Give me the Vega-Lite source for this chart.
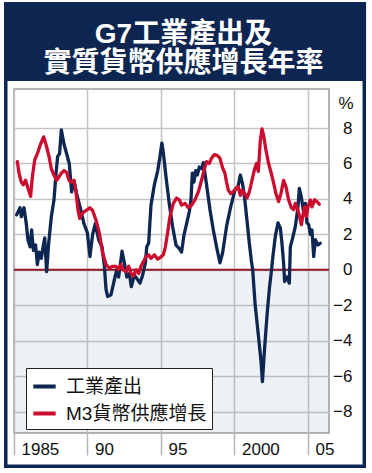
{
  "$schema": "https://vega.github.io/schema/vega-lite/v6.json",
  "width": 315,
  "height": 344,
  "autosize": {"type": "none"},
  "padding": {"left": 14, "top": 89, "right": 43, "bottom": 40},
  "background": "white",
  "title": {
    "text": ["G7工業產出及", "實質貨幣供應增長年率"],
    "color": "white",
    "font": "Liberation Sans, Noto Sans CJK TC",
    "fontSize": 28,
    "fontWeight": "bold",
    "lineHeight": 29,
    "anchor": "middle",
    "frame": "group",
    "dx": 12,
    "offset": -76
  },
  "config": {
    "view": {"stroke": "#9c9c9c", "strokeWidth": 1.5, "fill": "white"}
  },
  "datasets": {
    "one": [{}],
    "ip": [
      {"year": 1985.18, "pct": 3.1}, {"year": 1985.41, "pct": 3.5}, {"year": 1985.5, "pct": 3.0}, {"year": 1985.68, "pct": 3.5},
      {"year": 1985.82, "pct": 2.7}, {"year": 1985.95, "pct": 1.7}, {"year": 1986.09, "pct": 1.3}, {"year": 1986.2, "pct": 2.25},
      {"year": 1986.32, "pct": 1.1}, {"year": 1986.47, "pct": 1.4}, {"year": 1986.59, "pct": 0.3}, {"year": 1986.72, "pct": 1.0},
      {"year": 1986.86, "pct": 0.65}, {"year": 1987.0, "pct": 1.4}, {"year": 1987.09, "pct": 1.8}, {"year": 1987.22, "pct": -0.1},
      {"year": 1987.36, "pct": 1.5}, {"year": 1987.54, "pct": 3.0}, {"year": 1987.72, "pct": 3.95}, {"year": 1987.86, "pct": 5.45},
      {"year": 1987.97, "pct": 6.4}, {"year": 1988.1, "pct": 6.55}, {"year": 1988.22, "pct": 7.9}, {"year": 1988.4, "pct": 7.1},
      {"year": 1988.58, "pct": 6.55}, {"year": 1988.76, "pct": 6.0}, {"year": 1988.92, "pct": 4.4}, {"year": 1989.08, "pct": 5.0},
      {"year": 1989.26, "pct": 4.3}, {"year": 1989.54, "pct": 3.4}, {"year": 1989.76, "pct": 2.6}, {"year": 1989.99, "pct": 2.1},
      {"year": 1990.17, "pct": 0.75}, {"year": 1990.35, "pct": 2.0}, {"year": 1990.53, "pct": 2.6}, {"year": 1990.76, "pct": 1.7},
      {"year": 1990.99, "pct": 1.3}, {"year": 1991.15, "pct": 0.2}, {"year": 1991.26, "pct": -1.1}, {"year": 1991.37, "pct": -1.5},
      {"year": 1991.6, "pct": -1.4}, {"year": 1991.83, "pct": -0.55}, {"year": 1991.99, "pct": 0.0}, {"year": 1992.12, "pct": -0.4},
      {"year": 1992.35, "pct": 1.05}, {"year": 1992.51, "pct": 0.4}, {"year": 1992.67, "pct": -0.4}, {"year": 1992.85, "pct": -0.2},
      {"year": 1992.98, "pct": -0.95}, {"year": 1993.19, "pct": -0.3}, {"year": 1993.41, "pct": -0.55}, {"year": 1993.57, "pct": -0.75},
      {"year": 1993.75, "pct": -0.3}, {"year": 1993.94, "pct": 0.4}, {"year": 1994.03, "pct": 1.3}, {"year": 1994.16, "pct": 1.5},
      {"year": 1994.32, "pct": 3.65}, {"year": 1994.55, "pct": 4.8}, {"year": 1994.78, "pct": 5.6}, {"year": 1994.93, "pct": 6.4},
      {"year": 1995.06, "pct": 7.15}, {"year": 1995.16, "pct": 6.6}, {"year": 1995.34, "pct": 5.25}, {"year": 1995.56, "pct": 3.75},
      {"year": 1995.79, "pct": 2.45}, {"year": 1996.02, "pct": 1.4}, {"year": 1996.25, "pct": 1.2}, {"year": 1996.4, "pct": 1.0},
      {"year": 1996.56, "pct": 1.95}, {"year": 1996.74, "pct": 2.6}, {"year": 1996.93, "pct": 3.3}, {"year": 1997.04, "pct": 3.95},
      {"year": 1997.13, "pct": 5.45}, {"year": 1997.24, "pct": 4.95}, {"year": 1997.36, "pct": 5.6}, {"year": 1997.47, "pct": 5.35},
      {"year": 1997.61, "pct": 5.8}, {"year": 1997.76, "pct": 5.7}, {"year": 1997.88, "pct": 6.05}, {"year": 1997.99, "pct": 5.45},
      {"year": 1998.15, "pct": 4.5}, {"year": 1998.33, "pct": 3.4}, {"year": 1998.56, "pct": 2.25}, {"year": 1998.78, "pct": 1.3},
      {"year": 1999.01, "pct": 0.4}, {"year": 1999.19, "pct": 0.95}, {"year": 1999.46, "pct": 2.45}, {"year": 1999.74, "pct": 3.55},
      {"year": 2000.03, "pct": 4.5}, {"year": 2000.24, "pct": 4.7}, {"year": 2000.4, "pct": 5.35}, {"year": 2000.56, "pct": 4.8},
      {"year": 2000.69, "pct": 4.05}, {"year": 2000.85, "pct": 2.8}, {"year": 2001.01, "pct": 1.5}, {"year": 2001.15, "pct": 0.5},
      {"year": 2001.24, "pct": 0.0}, {"year": 2001.4, "pct": -1.9}, {"year": 2001.55, "pct": -3.1}, {"year": 2001.7, "pct": -4.3},
      {"year": 2001.8, "pct": -5.1}, {"year": 2001.9, "pct": -6.3}, {"year": 2002.05, "pct": -4.4}, {"year": 2002.23, "pct": -2.4},
      {"year": 2002.38, "pct": -1.0}, {"year": 2002.52, "pct": 0.0}, {"year": 2002.62, "pct": 0.8}, {"year": 2002.78, "pct": 1.9},
      {"year": 2002.96, "pct": 2.65}, {"year": 2003.12, "pct": 2.35}, {"year": 2003.23, "pct": 1.5}, {"year": 2003.34, "pct": 0.4},
      {"year": 2003.41, "pct": -0.65}, {"year": 2003.57, "pct": -0.4}, {"year": 2003.73, "pct": -0.75}, {"year": 2003.8, "pct": 1.3},
      {"year": 2003.96, "pct": 1.8}, {"year": 2004.14, "pct": 2.45}, {"year": 2004.32, "pct": 3.55}, {"year": 2004.41, "pct": 4.6},
      {"year": 2004.55, "pct": 4.1}, {"year": 2004.71, "pct": 3.2}, {"year": 2004.82, "pct": 3.75}, {"year": 2004.93, "pct": 2.65},
      {"year": 2005.05, "pct": 2.55}, {"year": 2005.16, "pct": 2.0}, {"year": 2005.27, "pct": 2.25}, {"year": 2005.39, "pct": 0.75},
      {"year": 2005.5, "pct": 1.7}, {"year": 2005.68, "pct": 1.4}, {"year": 2005.84, "pct": 1.5}
    ],
    "m3": [
      {"year": 1985.23, "pct": 6.1}, {"year": 1985.34, "pct": 5.45}, {"year": 1985.5, "pct": 4.95}, {"year": 1985.63, "pct": 4.8},
      {"year": 1985.79, "pct": 5.05}, {"year": 1985.95, "pct": 4.6}, {"year": 1986.13, "pct": 4.15}, {"year": 1986.25, "pct": 5.25},
      {"year": 1986.41, "pct": 6.2}, {"year": 1986.59, "pct": 6.55}, {"year": 1986.81, "pct": 7.1}, {"year": 1987.02, "pct": 7.5},
      {"year": 1987.2, "pct": 7.0}, {"year": 1987.38, "pct": 6.4}, {"year": 1987.54, "pct": 5.7}, {"year": 1987.72, "pct": 5.35},
      {"year": 1987.9, "pct": 5.05}, {"year": 1988.06, "pct": 5.25}, {"year": 1988.22, "pct": 5.45}, {"year": 1988.4, "pct": 5.6},
      {"year": 1988.58, "pct": 5.5}, {"year": 1988.74, "pct": 5.05}, {"year": 1988.9, "pct": 4.95}, {"year": 1989.08, "pct": 5.05},
      {"year": 1989.2, "pct": 4.5}, {"year": 1989.35, "pct": 3.4}, {"year": 1989.47, "pct": 2.9}, {"year": 1989.65, "pct": 3.2},
      {"year": 1989.81, "pct": 3.3}, {"year": 1989.99, "pct": 3.4}, {"year": 1990.15, "pct": 3.5}, {"year": 1990.35, "pct": 3.35},
      {"year": 1990.58, "pct": 2.8}, {"year": 1990.81, "pct": 2.05}, {"year": 1991.03, "pct": 0.95}, {"year": 1991.26, "pct": 0.3},
      {"year": 1991.49, "pct": 0.1}, {"year": 1991.71, "pct": 0.2}, {"year": 1991.94, "pct": 0.2}, {"year": 1992.1, "pct": 0.0},
      {"year": 1992.28, "pct": 0.3}, {"year": 1992.44, "pct": 0.0}, {"year": 1992.62, "pct": -0.1}, {"year": 1992.8, "pct": 0.2},
      {"year": 1992.96, "pct": -0.2}, {"year": 1993.12, "pct": -0.35}, {"year": 1993.3, "pct": 0.0}, {"year": 1993.48, "pct": -0.2},
      {"year": 1993.64, "pct": 0.2}, {"year": 1993.8, "pct": 0.45}, {"year": 1993.98, "pct": 0.75}, {"year": 1994.16, "pct": 0.85},
      {"year": 1994.32, "pct": 0.65}, {"year": 1994.55, "pct": 0.85}, {"year": 1994.78, "pct": 0.6}, {"year": 1994.95, "pct": 0.7},
      {"year": 1995.16, "pct": 0.85}, {"year": 1995.3, "pct": 1.3}, {"year": 1995.45, "pct": 2.1}, {"year": 1995.61, "pct": 3.0},
      {"year": 1995.84, "pct": 3.75}, {"year": 1996.06, "pct": 4.05}, {"year": 1996.25, "pct": 3.95}, {"year": 1996.4, "pct": 3.65},
      {"year": 1996.63, "pct": 3.75}, {"year": 1996.86, "pct": 3.5}, {"year": 1997.08, "pct": 3.65}, {"year": 1997.31, "pct": 3.95},
      {"year": 1997.54, "pct": 4.4}, {"year": 1997.76, "pct": 5.05}, {"year": 1997.92, "pct": 5.6}, {"year": 1998.1, "pct": 6.1},
      {"year": 1998.29, "pct": 6.0}, {"year": 1998.44, "pct": 6.3}, {"year": 1998.63, "pct": 6.5}, {"year": 1998.83, "pct": 6.45},
      {"year": 1999.01, "pct": 6.3}, {"year": 1999.19, "pct": 5.75}, {"year": 1999.35, "pct": 5.45}, {"year": 1999.46, "pct": 4.95},
      {"year": 1999.58, "pct": 4.5}, {"year": 1999.74, "pct": 4.3}, {"year": 1999.92, "pct": 4.4}, {"year": 2000.1, "pct": 4.6},
      {"year": 2000.24, "pct": 4.7}, {"year": 2000.4, "pct": 4.2}, {"year": 2000.51, "pct": 4.5}, {"year": 2000.69, "pct": 4.3},
      {"year": 2000.85, "pct": 4.05}, {"year": 2001.01, "pct": 4.4}, {"year": 2001.19, "pct": 5.05}, {"year": 2001.37, "pct": 5.7},
      {"year": 2001.5, "pct": 6.0}, {"year": 2001.62, "pct": 5.55}, {"year": 2001.76, "pct": 7.3}, {"year": 2001.87, "pct": 7.95},
      {"year": 2001.98, "pct": 7.6}, {"year": 2002.14, "pct": 6.75}, {"year": 2002.32, "pct": 6.0}, {"year": 2002.5, "pct": 5.45},
      {"year": 2002.66, "pct": 4.9}, {"year": 2002.82, "pct": 4.3}, {"year": 2003.0, "pct": 3.85}, {"year": 2003.16, "pct": 4.3},
      {"year": 2003.34, "pct": 5.05}, {"year": 2003.5, "pct": 4.7}, {"year": 2003.68, "pct": 3.95}, {"year": 2003.87, "pct": 3.5},
      {"year": 2004.03, "pct": 3.4}, {"year": 2004.14, "pct": 3.75}, {"year": 2004.3, "pct": 3.4}, {"year": 2004.43, "pct": 3.0},
      {"year": 2004.55, "pct": 2.55}, {"year": 2004.66, "pct": 3.1}, {"year": 2004.77, "pct": 3.55}, {"year": 2004.89, "pct": 3.0},
      {"year": 2005.0, "pct": 3.55}, {"year": 2005.16, "pct": 3.95}, {"year": 2005.27, "pct": 3.55}, {"year": 2005.45, "pct": 3.95},
      {"year": 2005.61, "pct": 3.85}, {"year": 2005.77, "pct": 3.7}
    ]
  },
  "layer": [
    {
      "data": {"name": "one"},
      "mark": {"type": "rect", "color": "#0d2651"},
      "encoding": {
        "x": {"datum": 1984.32, "type": "quantitative", "scale": {"domain": [1985, 2006.43], "nice": false, "zero": false}},
        "x2": {"datum": 2008.95},
        "y": {"datum": 15.11, "type": "quantitative", "scale": {"domain": [-9.2, 10.2], "nice": false, "zero": false}},
        "y2": {"datum": 10.65}
      }
    },
    {
      "data": {"name": "one"},
      "mark": {"type": "rect", "filled": false, "color": "#0d2651", "strokeWidth": 3.5},
      "encoding": {
        "x": {"datum": 1984.44, "type": "quantitative", "scale": {"domain": [1985, 2006.43], "nice": false, "zero": false}},
        "x2": {"datum": 2008.83},
        "y": {"datum": 15.01, "type": "quantitative", "scale": {"domain": [-9.2, 10.2], "nice": false, "zero": false}},
        "y2": {"datum": -11.08}
      }
    },
    {
      "data": {"name": "one"},
      "mark": {"type": "rect", "color": "#7f96b3", "opacity": 0.14},
      "encoding": {
        "x": {"datum": 1985, "type": "quantitative", "scale": {"domain": [1985, 2006.43], "nice": false, "zero": false}},
        "x2": {"datum": 2006.43},
        "y": {"datum": 0, "type": "quantitative", "scale": {"domain": [-9.2, 10.2], "nice": false, "zero": false}},
        "y2": {"datum": -9.2}
      }
    },
    {
      "data": {"name": "one"},
      "mark": {"type": "rule", "color": "#8b1a22", "strokeWidth": 2},
      "encoding": {
        "y": {"datum": 0, "type": "quantitative", "scale": {"domain": [-9.2, 10.2], "nice": false, "zero": false}}
      }
    },
    {
      "data": {"name": "ip"},
      "mark": {"type": "line", "strokeWidth": 3.3, "strokeJoin": "round", "strokeCap": "round"},
      "encoding": {
        "x": {
          "field": "year", "type": "quantitative",
          "scale": {"domain": [1985, 2006.43], "nice": false, "zero": false},
          "axis": {
            "title": null, "values": [1985, 1990, 1995, 2000, 2005], "format": "d",
            "labelExpr": "(datum.value == 1985 || datum.value == 2000) ? datum.label : substring(datum.label, 2)",
            "grid": true, "gridColor": "#c4c4c4", "gridWidth": 1.5,
            "domain": false, "ticks": true, "tickSize": 22, "tickColor": "#b5b5b5", "tickWidth": 1.5,
            "labelAlign": "left", "labelBaseline": "top", "labelOffset": 7, "labelPadding": -14,
            "labelFlush": false, "labelOverlap": false,
            "labelFont": "Liberation Sans", "labelFontSize": 17, "labelColor": "#111111"
          }
        },
        "y": {
          "field": "pct", "type": "quantitative",
          "scale": {"domain": [-9.2, 10.2], "nice": false, "zero": false},
          "axis": {
            "orient": "right", "values": [-8, -6, -4, -2, 0, 2, 4, 6, 8],
            "grid": true, "gridColor": "#c4c4c4", "gridWidth": 1.5,
            "domain": false, "ticks": false,
            "labelAlign": "right", "labelPadding": 23, "labelBaseline": "middle",
            "labelFont": "Liberation Sans", "labelFontSize": 17, "labelColor": "#111111",
            "title": "%", "titleAngle": 0, "titleX": 24, "titleY": 14, "titleAlign": "right", "titleBaseline": "middle",
            "titleFont": "Liberation Sans", "titleFontSize": 17, "titleFontWeight": "normal", "titleColor": "#111111"
          }
        },
        "color": {
          "datum": "工業產出",
          "scale": {"domain": ["工業產出", "M3貨幣供應增長"], "range": ["#0e2752", "#cc0c2f"]},
          "legend": {
            "title": null, "orient": "none", "legendX": 12, "legendY": 279,
            "fillColor": "white", "strokeColor": "#222222", "padding": 5,
            "symbolType": "stroke", "symbolStrokeWidth": 4, "symbolSize": 500,
            "labelFont": "Liberation Sans, Noto Sans CJK TC", "labelFontSize": 19, "labelColor": "#111111",
            "labelOffset": 8, "labelLimit": 300, "rowPadding": 3
          }
        }
      }
    },
    {
      "data": {"name": "m3"},
      "mark": {"type": "line", "strokeWidth": 3.3, "strokeJoin": "round", "strokeCap": "round"},
      "encoding": {
        "x": {"field": "year", "type": "quantitative", "scale": {"domain": [1985, 2006.43], "nice": false, "zero": false}},
        "y": {"field": "pct", "type": "quantitative", "scale": {"domain": [-9.2, 10.2], "nice": false, "zero": false}},
        "color": {"datum": "M3貨幣供應增長"}
      }
    }
  ]
}
